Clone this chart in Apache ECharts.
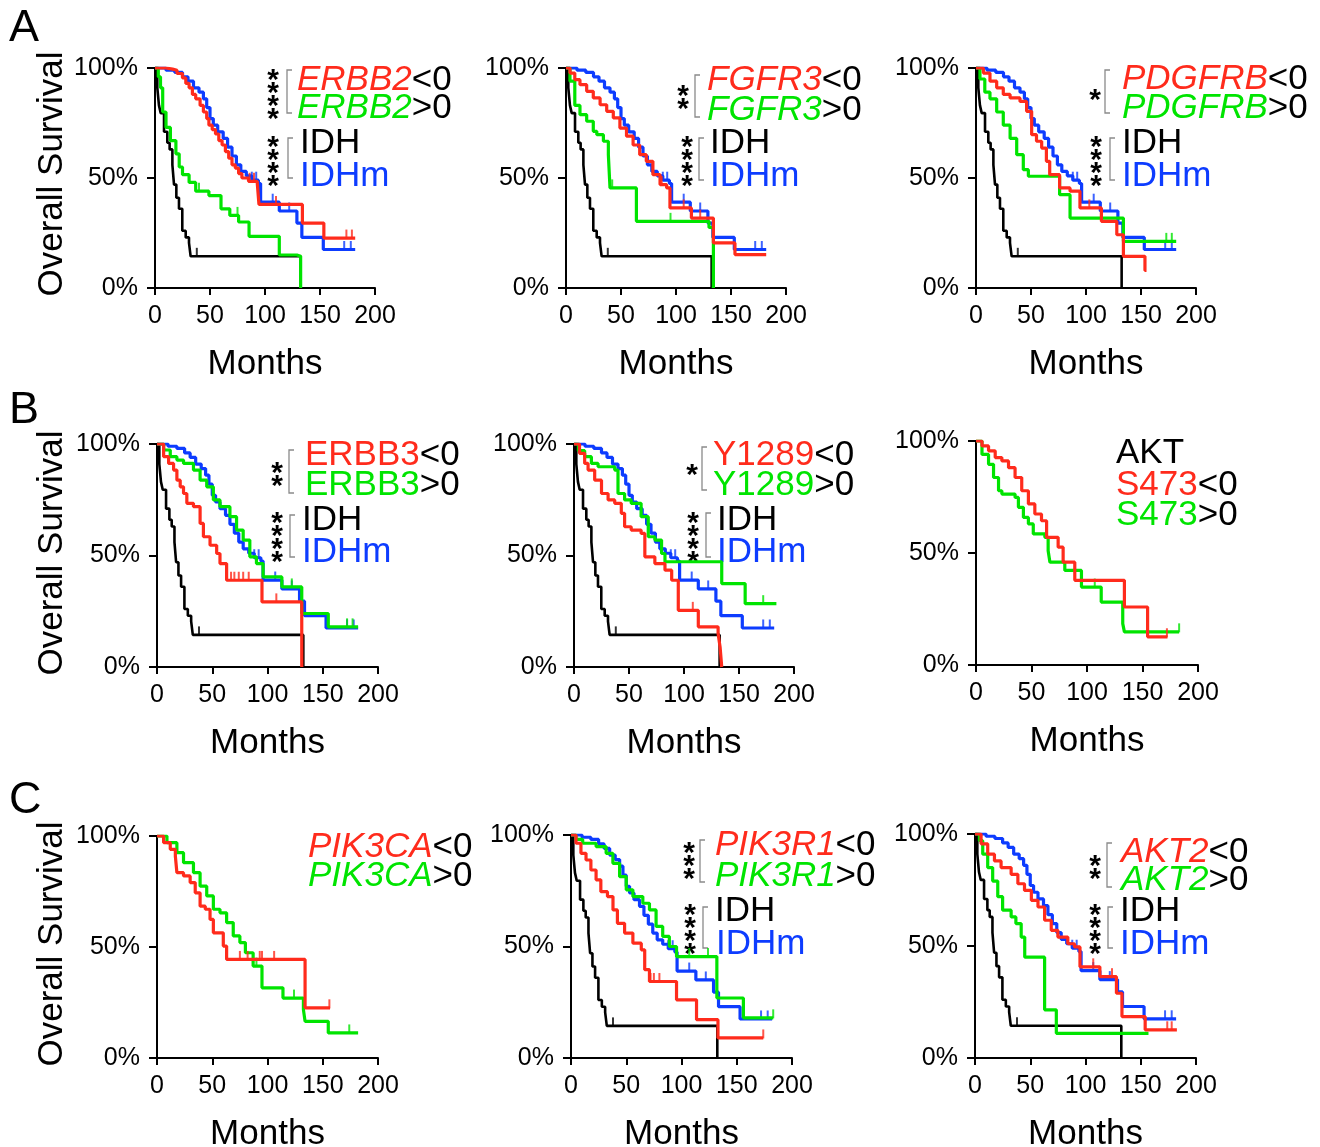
<!DOCTYPE html>
<html><head><meta charset="utf-8">
<script src="https://cdn.jsdelivr.net/npm/echarts@6/dist/echarts.min.js"></script>
<style>html,body{margin:0;padding:0;background:#fff}#c{width:1320px;height:1147px}</style>
</head><body><div id="c"></div>
<script>
// ---------- data (months, % surviving) ----------
const X_TICKS = [0, 50, 100, 150, 200];
const Y_TICKS = [0, 50, 100];

const IDH = [[0,100],[2.1,91],[3.6,83],[5.2,79.5],[8.2,71],[11.2,66],[13.3,63],[15.8,56],[17.3,47],[19.4,41],[21.8,36],[24.8,26],[27.9,23],[30.9,20.5],[32.4,14.4],[132.4,0]];
const IDH_CENS = [38];
const IDHM = [[0,100],[10,99],[18,98],[25,96],[30,94],[35,91],[40,89],[44,86],[47,82],[50,77],[53,74],[57,71],[62,68],[66,64],[70,60],[74,56],[78,53],[83,51],[88,49],[94,47.5],[96,39],[113,35],[129,29.5],[133.5,23],[153,17.5],[182,17.5]];
const IDHM_CENS = [88, 92, 107, 122, 172, 178];

const A1_RED = [[0,100],[10,99.5],[16,99],[20,97.5],[25,95.5],[28,93],[31,91],[34,88],[37,86],[41,83],[44,80],[47,77],[49,74],[52,72],[55,70],[58,67],[61,65],[64,62],[67,59],[70,56],[73,54.5],[76,52],[79,50],[85,48.5],[93,47.5],[94.5,38],[134,29.5],[153.5,22.7],[182,22.7]];
const A1_RED_CENS = [86, 90, 110, 174, 179];
const A1_GREEN = [[0,100],[3,96],[5,91],[7,80],[10,73],[14,67],[19,61],[22,55],[25,51.5],[31,48],[37,44],[49,42],[60,36],[68,33],[76,30],[85.5,23.5],[113,15],[129,14.4],[132.4,0]];
const A1_GREEN_CENS = [40, 75];

const A2_RED = [[0,100],[3.6,97.7],[8,94.7],[12.7,92.4],[18.8,89.4],[24.8,86.4],[31,83.3],[37,80.3],[43,77.3],[49,72.7],[55,69],[61,65],[67,60.6],[73,57.6],[79,51.5],[85.5,47],[91.5,45.5],[94.5,36.4],[114,31.8],[134,20.5],[153.6,15.2],[182,15.2]];
const A2_RED_CENS = [87, 107, 122];
const A2_GREEN = [[0,100],[3.6,94],[8,83],[12.7,78.8],[18.8,75.8],[24.8,71.2],[28,69.7],[34,66.7],[38.5,60.6],[40,45.5],[64,30.3],[130,27.5],[134,0]];
const A2_GREEN_CENS = [42, 95];

const A3_RED = [[0,100],[6.7,97.7],[12.7,94],[18.8,91],[24.8,88],[31,86.4],[40,84.8],[46,80.3],[50.6,69.7],[55,66.7],[59.7,63.6],[64,57.6],[67,51.5],[76,45.5],[85.5,44],[94.5,36.4],[114,30.3],[128,24.2],[134,14.4],[153.6,8],[155,8]];
const A3_RED_CENS = [103];
const A3_GREEN = [[0,100],[3.6,95],[8,89],[12.7,86],[18.8,80],[24.8,74],[31,68],[37,60.6],[43,53.8],[47.6,50.8],[76,42.4],[85.5,31.8],[134,21.2],[182,21.2]];
const A3_GREEN_CENS = [173, 178];

const B1_RED = [[0,100],[6,94.3],[10.5,91.3],[15,88.3],[18,83.8],[21,80.8],[24,77.8],[27,73.4],[33,71.9],[39,64.4],[42,58.4],[48,54.6],[54,50.9],[57,46.4],[63,38.9],[95,29.2],[131,0]];
const B1_RED_CENS = [67, 70, 74, 78, 83, 108];
const B1_GREEN = [[0,100],[6,97.3],[12,94.3],[18,92.8],[24,91.3],[33,88.3],[39,83.8],[45,80.8],[51,74.9],[57,71.9],[66,67.4],[72,61.4],[78,56.9],[84,49.4],[90,46.4],[96,40.4],[113,35.9],[131,24],[155,18],[182,18]];
const B1_GREEN_CENS = [122, 172, 177];

const B2_RED = [[0,100],[5,95.8],[9.7,91.3],[12.8,88.3],[18.8,83.8],[25,77.8],[31,74.9],[37,73.4],[43,68.9],[46,62.9],[52,61.4],[61,59.9],[64.4,49.4],[73.5,46.4],[82.7,43.4],[88.8,38.9],[94.8,25.4],[113,18],[131,15],[132.8,9],[134.3,0]];
const B2_RED_CENS = [108];
const B2_GREEN = [[0,100],[4,97],[9.7,94.3],[15.8,91.3],[21.9,89.8],[37,88.3],[40,77.8],[46,74.9],[52,73.4],[61,67.4],[67.5,58.4],[73.5,56.9],[79.6,50.9],[82.7,47.2],[134.3,37.4],[155.6,28.4],[184,28.4]];
const B2_GREEN_CENS = [172];

const B3_RED = [[0,100],[5.4,97.8],[11.3,95.6],[17.3,92.6],[23.3,91.1],[29.3,88.1],[35.2,83.7],[41.2,77.8],[47.2,71.9],[53,67.4],[59,64.4],[63.6,57],[74,52.6],[78.5,45.9],[89,37.8],[133.7,25.9],[154.6,12.6],[172.5,12.6]];
const B3_RED_CENS = [172];
const B3_GREEN = [[0,100],[5.4,94],[11.3,89.6],[15.8,83.7],[20.3,77.8],[23.3,76.3],[35.2,74.8],[38.2,70.4],[42.7,65.9],[47.2,63],[51.6,58.5],[62,57],[65,51],[66.6,45.9],[80,42.2],[95,34.8],[112.8,28.1],[132.2,18.5],[133.7,14.8],[183,14.8]];
const B3_GREEN_CENS = [107, 183];

const C1_RED = [[0,100],[6,97],[12,94],[16.6,91],[18,83.5],[24,82],[30,79],[34.6,74.4],[39,68.4],[43.7,67],[48,62.4],[51,56.4],[60,50.4],[63,44.4],[134,22.6],[156.6,22.6]];
const C1_RED_CENS = [75, 82, 93, 95, 106, 156];
const C1_GREEN = [[0,100],[9,97],[18,92.5],[24,88],[33,83.5],[39,77.4],[45,73],[51,67],[57,65.4],[63,61],[69,55],[75,52],[80,47.4],[87,41.4],[95,31.6],[114,27],[132.5,21.8],[134,16.5],[155,11.3],[182,11.3]];
const C1_GREEN_CENS = [90, 124, 174];

const C2_RED = [[0,100],[4.5,96.3],[9,91.8],[13.6,88.8],[18,84.3],[22.7,79.9],[27,74.6],[33,72.4],[38,66.4],[42,60.4],[48.5,56],[56,51.5],[63.6,48.5],[66.7,39.6],[71,34.3],[95.5,26.1],[113.6,17.2],[133,9],[174,9]];
const C2_RED_CENS = [72, 75, 80, 174];
const C2_GREEN = [[0,100],[4.5,98],[10.6,96.3],[22.7,94.8],[31.8,91.8],[37.9,87.3],[44,81.3],[50,75.4],[56,72.4],[65,69.4],[71,66.4],[77,59],[83,54.5],[89,50],[95.5,45.5],[132,26.9],[156,18],[183,18]];
const C2_GREEN_CENS = [107, 124, 183];

const C3_RED = [[0,100],[5.5,95.6],[11.5,91],[17.6,88],[23.6,85],[32.7,82],[38.8,77.8],[44.8,74.8],[51,70.4],[57,67.4],[63,61.5],[69,57],[75,54],[84,51],[90,49.6],[95,40.7],[113,36.3],[128,28.9],[133,18.5],[154,12.6],[182.7,12.6]];
const C3_RED_CENS = [107, 124, 174, 178];
const C3_GREEN = [[0,100],[4,97],[7,91],[11.5,85],[16,79],[20.6,72],[25,66],[32.7,63],[37,60],[41.8,54],[45,45],[63,21.5],[73.6,11],[157,11]];
const C3_GREEN_CENS = [];

// ---------- styling / layout ----------
const F = 'Liberation Sans, Arial, Helvetica, sans-serif';
const COL = { red: '#ff2b1c', green: '#00e400', blue: '#0d3cff', black: '#000000' };

const panels = [
  { g: [155, 68, 220, 220], curves: [['black', IDH, IDH_CENS], ['blue', IDHM, IDHM_CENS], ['green', A1_GREEN, A1_GREEN_CENS], ['red', A1_RED, A1_RED_CENS]] },
  { g: [566, 68, 220, 220], curves: [['black', IDH, IDH_CENS], ['blue', IDHM, IDHM_CENS], ['green', A2_GREEN, A2_GREEN_CENS], ['red', A2_RED, A2_RED_CENS]] },
  { g: [976, 68, 220, 220], curves: [['black', IDH, IDH_CENS], ['blue', IDHM, IDHM_CENS], ['green', A3_GREEN, A3_GREEN_CENS], ['red', A3_RED, A3_RED_CENS]] },
  { g: [157, 444, 221, 223], curves: [['black', IDH, IDH_CENS], ['blue', IDHM, IDHM_CENS], ['green', B1_GREEN, B1_GREEN_CENS], ['red', B1_RED, B1_RED_CENS]] },
  { g: [574, 444, 220, 223], curves: [['black', IDH, IDH_CENS], ['blue', IDHM, IDHM_CENS], ['green', B2_GREEN, B2_GREEN_CENS], ['red', B2_RED, B2_RED_CENS]] },
  { g: [976, 441, 222, 224], curves: [['green', B3_GREEN, B3_GREEN_CENS], ['red', B3_RED, B3_RED_CENS]] },
  { g: [157, 836, 221, 222], curves: [['green', C1_GREEN, C1_GREEN_CENS], ['red', C1_RED, C1_RED_CENS]] },
  { g: [571, 835, 221, 223], curves: [['black', IDH, IDH_CENS], ['blue', IDHM, IDHM_CENS], ['green', C2_GREEN, C2_GREEN_CENS], ['red', C2_RED, C2_RED_CENS]] },
  { g: [975, 834, 221, 224], curves: [['black', IDH, IDH_CENS], ['blue', IDHM, IDHM_CENS], ['green', C3_GREEN, C3_GREEN_CENS], ['red', C3_RED, C3_RED_CENS]] }
];

function stepAt(curve, t) {
  let v = curve[0][1];
  for (const p of curve) { if (p[0] <= t) v = p[1]; else break; }
  return v;
}

const grid = [], xAxis = [], yAxis = [], series = [];
panels.forEach((p, i) => {
  grid.push({ left: p.g[0], top: p.g[1], width: p.g[2], height: p.g[3], containLabel: false, outerBoundsMode: 'none' });
  xAxis.push({
    gridIndex: i, type: 'value', min: X_TICKS[0], max: X_TICKS[X_TICKS.length - 1], interval: X_TICKS[1] - X_TICKS[0],
    axisLine: { show: true, onZero: false, lineStyle: { color: '#000', width: 2 } },
    axisTick: { show: true, length: 7, lineStyle: { color: '#000', width: 2 } },
    axisLabel: { fontSize: 25, color: '#000', margin: 16, fontFamily: F, showMaxLabel: true, showMinLabel: true },
    splitLine: { show: false },
    name: 'Months', nameLocation: 'middle', nameGap: 59,
    nameTextStyle: { fontSize: 35, color: '#000', fontFamily: F }
  });
  yAxis.push({
    gridIndex: i, type: 'value', min: Y_TICKS[0], max: Y_TICKS[Y_TICKS.length - 1], interval: Y_TICKS[1] - Y_TICKS[0],
    axisLine: { show: true, onZero: false, lineStyle: { color: '#000', width: 2 } },
    axisTick: { show: true, length: 8, lineStyle: { color: '#000', width: 2 } },
    axisLabel: { formatter: '{value}%', fontSize: 25, color: '#000', margin: 17, fontFamily: F, showMaxLabel: true, showMinLabel: true },
    splitLine: { show: false }
  });
  p.curves.forEach(([c, data, cens], k) => {
    series.push({
      type: 'line', xAxisIndex: i, yAxisIndex: i, data: data, step: 'end',
      showSymbol: false, symbol: 'none', silent: true, animation: false, z: 2 + k,
      lineStyle: { color: COL[c], width: c === 'black' ? 2.6 : 3.2 }, itemStyle: { color: COL[c] }
    });
    if (cens.length) series.push({
      type: 'scatter', xAxisIndex: i, yAxisIndex: i, silent: true, animation: false, z: 2 + k,
      data: cens.map(t => [t, stepAt(data, t)]),
      symbol: 'rect', symbolSize: [2, 9], symbolOffset: [0, -4], itemStyle: { color: COL[c] }
    });
  });
});

// ---------- annotation text ----------
const RICH = {
  ri: { fill: COL.red, fontStyle: 'italic', fontSize: 35, fontFamily: F },
  gi: { fill: COL.green, fontStyle: 'italic', fontSize: 35, fontFamily: F },
  r: { fill: COL.red, fontSize: 35, fontFamily: F },
  g: { fill: COL.green, fontSize: 35, fontFamily: F },
  b: { fill: COL.blue, fontSize: 35, fontFamily: F },
  k: { fill: '#000', fontSize: 35, fontFamily: F }
};
const gfx = [];
function line(x, y, parts) {
  gfx.push({ type: 'text', x: x, y: y, silent: true,
    style: { text: parts.map(([t, s]) => '{' + s + '|' + t + '}').join(''), rich: RICH,
      font: '35px ' + F, align: 'left', verticalAlign: 'middle' } });
}
function stars(x, y, n) {
  gfx.push({ type: 'text', x: x, y: y + 8, silent: true,
    style: { text: Array(n).fill('*').join('\n'), font: 'bold 30px ' + F, lineHeight: 13,
      fill: '#000', align: 'center', verticalAlign: 'middle' } });
}
function bracket(x, y1, y2) {
  gfx.push({ type: 'polyline', silent: true,
    shape: { points: [[x + 5, y1], [x, y1], [x, y2], [x + 5, y2]] },
    style: { stroke: '#8a8a8a', lineWidth: 1.3, fill: null } });
}
function letter(t, x, y) {
  gfx.push({ type: 'text', x: x, y: y, silent: true,
    style: { text: t, font: '45px ' + F, fill: '#000', align: 'left', verticalAlign: 'middle' } });
}
function yTitle(y) {
  gfx.push({ type: 'text', x: 52, y: y, rotation: Math.PI / 2, silent: true,
    style: { text: 'Overall Survival', font: '35px ' + F, fill: '#000', align: 'center', verticalAlign: 'middle' } });
}

letter('A', 9, 29); letter('B', 9, 411); letter('C', 9, 801);
yTitle(174); yTitle(553); yTitle(944);

// A1
stars(273, 92, 4); bracket(287, 70, 113);
line(297, 80, [['ERBB2', 'ri'], ['<0', 'k']]); line(297, 108, [['ERBB2', 'gi'], ['>0', 'k']]);
stars(273, 159, 4); bracket(288, 138, 178);
line(300, 143, [['IDH', 'k']]); line(300, 176, [['IDHm', 'b']]);
// A2
stars(683, 95, 2); bracket(695, 75, 117);
line(707, 80, [['FGFR3', 'ri'], ['<0', 'k']]); line(707, 110, [['FGFR3', 'gi'], ['>0', 'k']]);
stars(687, 159, 4); bracket(699, 138, 180);
line(710, 143, [['IDH', 'k']]); line(710, 176, [['IDHm', 'b']]);
// A3
stars(1095, 93, 1); bracket(1105, 70, 113);
line(1122, 79, [['PDGFRB', 'ri'], ['<0', 'k']]); line(1122, 108, [['PDGFRB', 'gi'], ['>0', 'k']]);
stars(1096, 159, 4); bracket(1110, 138, 180);
line(1122, 143, [['IDH', 'k']]); line(1122, 176, [['IDHm', 'b']]);
// B1
stars(277, 472, 2); bracket(289, 450, 493);
line(305, 455, [['ERBB3', 'r'], ['<0', 'k']]); line(305, 485, [['ERBB3', 'g'], ['>0', 'k']]);
stars(277, 535, 4); bracket(290, 515, 557);
line(302, 520, [['IDH', 'k']]); line(302, 552, [['IDHm', 'b']]);
// B2
stars(692, 468, 1); bracket(702, 447, 490);
line(713, 455, [['Y1289', 'r'], ['<0', 'k']]); line(713, 485, [['Y1289', 'g'], ['>0', 'k']]);
stars(693, 535, 4); bracket(706, 513, 557);
line(717, 520, [['IDH', 'k']]); line(717, 552, [['IDHm', 'b']]);
// B3
line(1116, 453, [['AKT', 'k']]); line(1116, 485, [['S473', 'r'], ['<0', 'k']]); line(1116, 515, [['S473', 'g'], ['>0', 'k']]);
// C1
line(308, 847, [['PIK3CA', 'ri'], ['<0', 'k']]); line(308, 876, [['PIK3CA', 'gi'], ['>0', 'k']]);
// C2
stars(689, 859, 3); bracket(700, 840, 882);
line(715, 845, [['PIK3R1', 'ri'], ['<0', 'k']]); line(715, 876, [['PIK3R1', 'gi'], ['>0', 'k']]);
stars(690, 927, 4); bracket(703, 907, 948);
line(715, 911, [['IDH', 'k']]); line(716, 944, [['IDHm', 'b']]);
// C3
stars(1095, 865, 2); bracket(1107, 843, 887);
line(1121, 852, [['AKT2', 'ri'], ['<0', 'k']]); line(1121, 880, [['AKT2', 'gi'], ['>0', 'k']]);
stars(1095, 927, 4); bracket(1108, 907, 948);
line(1120, 911, [['IDH', 'k']]); line(1120, 944, [['IDHm', 'b']]);

const chart = echarts.init(document.getElementById('c'), null, { renderer: 'canvas' });
chart.setOption({
  backgroundColor: '#fff', animation: false,
  textStyle: { fontFamily: F },
  grid: grid, xAxis: xAxis, yAxis: yAxis, series: series, graphic: gfx
});
</script>
</body></html>
